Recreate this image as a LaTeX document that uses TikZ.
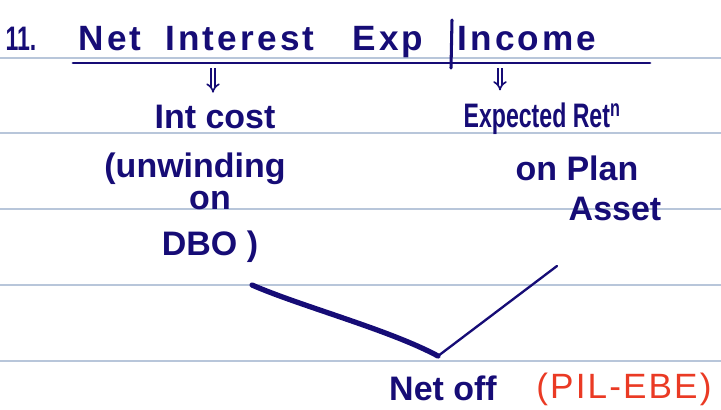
\documentclass[tikz,border=0pt]{standalone}
\usepackage{fontspec}
\setmainfont{Liberation Sans}
\usetikzlibrary{positioning,arrows.meta}
\definecolor{ink}{RGB}{22,12,118}
\definecolor{redink}{RGB}{234,58,36}
\definecolor{ruling}{RGB}{184,198,218}
\newcommand\HandSize{\fontsize{29}{32}\selectfont\bfseries}
\newcommand\TitleSize{\fontsize{30}{34}\selectfont\bfseries\addfontfeatures{LetterSpace=9}}
\newcommand\Narrow[1]{\scalebox{0.68}[1]{#1}}
\tikzset{
  hand/.style={
    text = ink,
    font = \HandSize,
    anchor = base,
    inner sep = 1pt
  },
  titlehand/.style={
    hand,
    font = \TitleSize
  },
  redhand/.style={
    hand,
    text = redink,
    font = \fontsize{30}{34}\selectfont\addfontfeatures{LetterSpace=6}
  },
  pen/.style={
    draw = ink,
    line width = 2pt,
    line cap = round
  },
  heavypen/.style={
    draw = ink,
    line width = 4.5pt,
    line cap = round
  },
  dblarrow/.style={
    draw = ink,
    double = white,
    double distance = 2.4pt,
    line width = 1.4pt,
    shorten > = 9pt,
    -{Implies}
  },
  ruleline/.style={
    draw = ruling,
    line width = 1.2pt
  }
}

\begin{document}
\begin{tikzpicture}[x=0.03cm,y=-0.03cm]
    \useasboundingbox (0,0) rectangle (721,409);

    % notebook ruling
    \foreach \y in {58,133,209,285,361}
        \draw[ruleline] (0,\y) -- (721,\y);

    % heading
    \node[hand] (num) at (21,50) {\Narrow{11.}};
    \node[titlehand] (net) at (110,50) {Net};
    \node[titlehand] (interest) at (240,50) {Interest};
    \node[titlehand] (exp) at (388,50) {Exp};
    \node[titlehand] (income) at (527,50) {Income};
    \coordinate (bartop) at (452,20);
    \coordinate (barbot) at (451,68);
    \draw[pen, line width=2.6pt] (bartop) -- (barbot);
    \coordinate (ulwest) at (73,63);
    \coordinate (uleast) at (650,63);
    \draw[pen, line width=2.4pt] (ulwest) -- (uleast);

    % left branch
    \node[hand] (intcost) at (215,128) {Int cost};
    \node[hand] (unwind) at (195,177) {(unwinding};
    \node[hand] (on) at (210,209) {on};
    \node[hand] (dbo) at (210,255) {DBO )};

    % right branch
    \node[hand] (expret) at (542,127) {\Narrow{Expected Ret\textsuperscript{n}}};
    \node[hand] (onplan) at (577,180) {on Plan};
    \node[hand] (asset) at (615,220) {Asset};

    \coordinate (la) at (213,68);
    \coordinate (ra) at (500,68);
    \draw[dblarrow] (la) -- (la |- intcost.north);
    \draw[dblarrow] (ra) -- (ra |- expret.north);

    % bottom
    \node[hand] (netoff) at (443,400) {Net off};
    \node[redhand] (pl) at (624,398) {(PIL-EBE)};

    \coordinate (lstart) at (252,285);
    \coordinate (rstart) at (557,266);
    \coordinate (meet) at (438,356);
    \draw[heavypen] (lstart) .. controls (300,306) and (390,330) .. (meet);
    \draw[pen] (rstart) -- (meet);
\end{tikzpicture}
\end{document}
